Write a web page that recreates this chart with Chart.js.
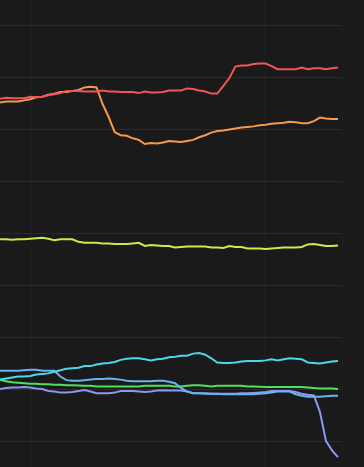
<!DOCTYPE html>
<html>
<head>
<meta charset="utf-8">
<script src="https://cdn.jsdelivr.net/npm/chart.js@4/dist/chart.umd.min.js"></script>
<style>
  html, body { margin: 0; padding: 0; background: #1a1a1a; }
  #wrap { width: 364px; height: 467px; }
</style>
</head>
<body>
<div id="wrap"><canvas id="chart"></canvas></div>
<script>
// sample index along the x axis (57 samples)
const samples = Array.from({ length: 57 }, (_, i) => i);

// grid positions (no labels shown in the picture)
const xTicks = [5.3, 18.14, 30.98, 43.82, 56.66];
const yTicks = [0, 10, 20, 30, 40, 50, 60, 70, 80];

// series values
const redSeries = [65.9, 66.1, 66.0, 66.0, 66.0, 66.3, 66.2, 66.3, 66.6, 66.8, 67.0, 67.4, 67.4, 67.4, 67.3, 67.3, 67.3, 67.5, 67.3, 67.3,
  67.2, 67.2, 67.2, 67.0, 67.3, 67.1, 67.1, 67.2, 67.5, 67.5, 67.5, 67.9, 67.8, 67.5, 67.3, 66.9, 66.9, 68.4, 69.9, 72.1,
  72.3, 72.3, 72.6, 72.7, 72.7, 72.2, 71.6, 71.6, 71.6, 71.6, 71.9, 71.6, 71.8, 71.8, 71.6, 71.8, 71.9];
const orangeSeries = [65.2, 65.4, 65.4, 65.4, 65.6, 65.8, 66.2, 66.3, 66.7, 66.9, 67.2, 67.2, 67.4, 67.6, 68.1, 68.2, 68.1, 64.9, 62.4, 59.5,
  58.9, 58.8, 58.3, 58.0, 57.2, 57.4, 57.3, 57.5, 57.8, 57.7, 57.6, 57.8, 58.0, 58.5, 58.9, 59.4, 59.7, 59.8, 60.0, 60.2,
  60.4, 60.5, 60.6, 60.8, 60.9, 61.1, 61.2, 61.3, 61.5, 61.4, 61.2, 61.2, 61.6, 62.3, 62.1, 62.0, 62.0];
const limeSeries = [38.9, 38.9, 38.8, 38.9, 38.9, 39.0, 39.1, 39.2, 39.0, 38.7, 38.9, 38.9, 38.9, 38.4, 38.2, 38.2, 38.2, 38.1, 38.1, 38.0,
  38.0, 38.0, 38.1, 38.2, 37.6, 37.8, 37.7, 37.6, 37.6, 37.3, 37.4, 37.5, 37.5, 37.5, 37.5, 37.3, 37.3, 37.2, 37.6, 37.4,
  37.4, 37.1, 37.1, 37.1, 37.0, 37.1, 37.2, 37.3, 37.3, 37.3, 37.4, 37.9, 38.0, 37.8, 37.6, 37.6, 37.7];
const cyanSeries = [11.9, 12.1, 12.3, 12.5, 12.5, 12.6, 12.9, 13.0, 13.1, 13.4, 13.7, 14.0, 14.1, 14.2, 14.5, 14.5, 14.8, 15.0, 15.1, 15.3,
  15.7, 15.9, 16.0, 16.0, 15.8, 15.6, 15.8, 15.9, 16.2, 16.3, 16.5, 16.5, 16.9, 17.0, 16.7, 16.0, 15.2, 15.1, 15.1, 15.2,
  15.4, 15.5, 15.5, 15.5, 15.6, 15.8, 15.6, 15.8, 16.0, 15.9, 15.8, 15.2, 15.1, 15.0, 15.2, 15.4, 15.5];
const skySeries = [13.6, 13.6, 13.6, 13.6, 13.7, 13.8, 13.8, 13.6, 13.6, 13.6, 12.5, 11.8, 11.7, 11.7, 11.8, 11.9, 12.0, 12.0, 12.1, 12.0,
  11.9, 11.7, 11.6, 11.6, 11.6, 11.6, 11.7, 11.7, 11.5, 11.2, 10.3, 9.6, 9.3, 9.3, 9.3, 9.2, 9.2, 9.1, 9.1, 9.1,
  9.1, 9.1, 9.1, 9.2, 9.3, 9.4, 9.6, 9.6, 9.6, 9.1, 8.8, 8.6, 8.6, 8.6, 8.7, 8.8, 8.8];
const greenSeries = [11.9, 11.6, 11.4, 11.3, 11.2, 11.1, 11.1, 11.0, 11.0, 10.9, 10.9, 10.8, 10.8, 10.75, 10.7, 10.7, 10.6, 10.6, 10.6, 10.6,
  10.6, 10.6, 10.6, 10.6, 10.7, 10.7, 10.7, 10.7, 10.7, 10.6, 10.6, 10.7, 10.8, 10.8, 10.7, 10.6, 10.7, 10.7, 10.7, 10.7,
  10.7, 10.6, 10.6, 10.55, 10.5, 10.5, 10.5, 10.5, 10.5, 10.5, 10.5, 10.4, 10.3, 10.2, 10.2, 10.2, 10.1];
const violetSeries = [10.1, 10.3, 10.4, 10.4, 10.5, 10.4, 10.2, 10.1, 9.7, 9.6, 9.4, 9.4, 9.5, 9.7, 9.9, 9.6, 9.3, 9.3, 9.3, 9.4,
  9.7, 9.7, 9.7, 9.6, 9.5, 9.6, 9.8, 9.85, 9.8, 9.8, 9.8, 9.6, 9.3, 9.3, 9.2, 9.2, 9.2, 9.2, 9.2, 9.2,
  9.3, 9.3, 9.35, 9.4, 9.5, 9.7, 9.7, 9.7, 9.7, 9.5, 9.2, 9.0, 8.85, 5.7, 0.1, -1.7, -3.0];

const seriesList = [
  { data: redSeries, color: "#f2545b" },
  { data: orangeSeries, color: "#f5994c" },
  { data: limeSeries, color: "#c5ee4a" },
  { data: cyanSeries, color: "#4fd6e6" },
  { data: skySeries, color: "#68b4f2" },
  { data: greenSeries, color: "#4fe15c" },
  { data: violetSeries, color: "#8b97f0" },
];

new Chart(document.getElementById("chart"), {
  type: "line",
  data: {
    labels: samples,
    datasets: seriesList.map((s) => ({
      data: s.data.map((v, i) => ({ x: samples[i], y: v })),
      borderColor: s.color,
      borderWidth: 2,
      pointRadius: 0,
      tension: 0,
      fill: false,
    })),
  },
  options: {
    responsive: true,
    maintainAspectRatio: false,
    animation: false,
    layout: { padding: { left: 0, right: 22, top: 0, bottom: 0 } },
    plugins: { legend: { display: false }, tooltip: { enabled: false } },
    scales: {
      x: {
        type: "linear",
        min: 0,
        max: 56.66,
        afterBuildTicks: (scale) => { scale.ticks = xTicks.map((v) => ({ value: v })); },
        ticks: { display: false },
        border: { display: false },
        grid: { color: "rgba(255,255,255,0.02)", drawTicks: false },
      },
      y: {
        min: -4.904,
        max: 84.904,
        afterBuildTicks: (scale) => { scale.ticks = yTicks.map((v) => ({ value: v })); },
        ticks: { display: false },
        border: { display: false },
        grid: { color: "rgba(255,255,255,0.08)", drawTicks: false },
      },
    },
  },
});
</script>
</body>
</html>
